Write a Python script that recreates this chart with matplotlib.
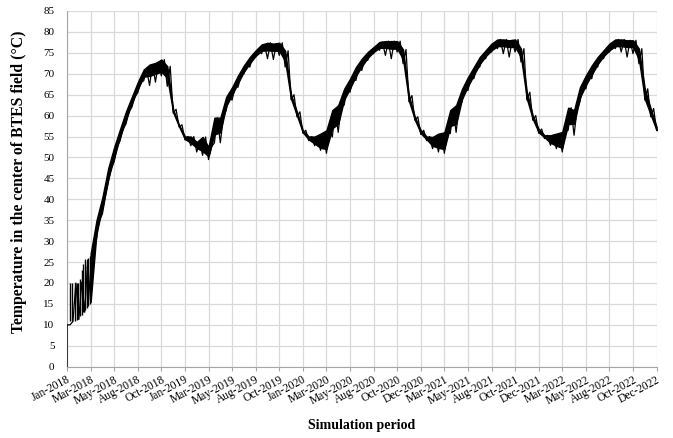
import numpy as np
import matplotlib
matplotlib.use("Agg")
import matplotlib.pyplot as plt

plt.rcParams['font.family'] = ['Liberation Serif', 'DejaVu Serif']

# sampled every 18.25 days from 1 Jan 2018 (degC)
step_days = 18.25
# lowest dips of the trace
temp_low = [
    10, 10.8, 11.3, 13, 15.5, 30.5, 36.5, 44, 49, 54,
    58, 62, 65.5, 68.3, 67.2, 68, 69.5, 67, 60.6, 57.3,
    54.2, 52.8, 51.3, 50.5, 49.5, 53.5, 53.5, 61.3, 63.7, 66.8,
    70, 71.6, 74, 74.8, 73.6, 73.4, 74.4, 71.6, 63.8, 59.7,
    55.8, 54, 52.8, 51.7, 51, 54.9, 56, 62.5, 65.6, 68.4,
    70.8, 73.2, 74.8, 75.6, 74.4, 73.6, 75.2, 72.4, 63.3, 58.9,
    55.5, 54, 52.1, 51.3, 51, 55.7, 56, 63.3, 66, 68.8,
    71.6, 73.6, 75.2, 76, 74.8, 74, 75.2, 72.8, 63.7, 58.9,
    55.8, 54.5, 52.9, 52.1, 51.3, 56.5, 55.3, 63.3, 66.4, 68.8,
    71.6, 73.6, 75.2, 76, 75.2, 74, 74.8, 72.4, 63.7, 59.7,
    56.5,
]
# lower edge of the dense part of the trace
temp_core = [
    10, 10.8, 11.3, 13, 15.5, 32, 38, 45, 50, 55,
    59, 63, 66.3, 69.3, 69.5, 70, 70.5, 69, 60.8, 57.4,
    54.4, 53.5, 52.3, 51.5, 50.3, 55.5, 56, 62.3, 65, 67.8,
    70.5, 72.5, 74.3, 75.5, 75.6, 75.5, 75.5, 73, 64, 60,
    56, 54.3, 53.3, 52.3, 52, 57, 58, 63.8, 66.5, 69.5,
    71.8, 73.8, 75.2, 76.2, 76.2, 76, 76, 73.5, 63.5, 59,
    55.8, 54.3, 52.8, 52.3, 52, 57.5, 58, 64, 67, 69.7,
    72.3, 74.2, 75.6, 76.6, 76.6, 76.4, 76.4, 74, 64, 59.2,
    56, 54.8, 53.5, 52.8, 52.3, 58, 58, 64.3, 67.3, 69.8,
    72.3, 74.2, 75.6, 76.6, 76.6, 76.4, 76.4, 73.5, 64, 60.2,
    56.5,
]
# upper edge of the trace
temp_high = [
    10, 20, 20.2, 25.5, 27, 35, 40.5, 47.5, 52.5, 56.8,
    61, 64.5, 68, 71, 72.2, 72.6, 73.4, 71.8, 61.5, 57.8,
    55, 55, 53.7, 54.9, 52.5, 59.5, 59.5, 64.5, 66.8, 69.6,
    72, 74, 75.6, 77, 77.4, 77.2, 77.4, 75.5, 65, 60.9,
    56.5, 55, 55, 55.7, 56.5, 61.3, 62.5, 66.4, 68.8, 71.6,
    73.6, 75.2, 76.4, 77.6, 77.8, 77.8, 77.8, 75.8, 64.8, 59.7,
    56.5, 55, 54.9, 55.7, 56, 61.3, 62.5, 66.4, 69.2, 71.6,
    74, 75.6, 77.2, 78.2, 78.2, 78, 78.2, 76, 65.6, 60,
    56.8, 55.3, 55.3, 55.7, 56.1, 61.9, 61.3, 66.8, 69.6, 72,
    74, 75.6, 77.2, 78.2, 78.2, 78, 78, 76, 66.4, 61.7,
    57.3,
]
start_value = 0

# separate spikes during the first weeks of charging (day of year, bottom, top)
early_spike_day = [9.3, 14.5, 24.8, 30, 35, 40.2, 45.5, 50.4, 55.7, 61, 66, 71.2]
early_spike_bottom = [10.8, 10.8, 11, 11.2, 11.5, 12, 12.3, 13, 13.5, 14, 14.5, 15]
early_spike_top = [20, 20, 20, 20, 20, 21, 23, 24.5, 25.7, 24, 26, 26.5]

tick_labels = ['Jan-2018', 'Mar-2018', 'May-2018', 'Aug-2018', 'Oct-2018',
               'Jan-2019', 'Mar-2019', 'May-2019', 'Aug-2019', 'Oct-2019',
               'Jan-2020', 'Mar-2020', 'May-2020', 'Aug-2020', 'Oct-2020',
               'Dec-2020', 'Mar-2021', 'May-2021', 'Aug-2021', 'Oct-2021',
               'Dec-2021', 'Mar-2022', 'May-2022', 'Aug-2022', 'Oct-2022',
               'Dec-2022']
tick_step_days = 73

start = np.datetime64('2018-01-01T00:00')
step_h = step_days * 24
t_nodes = np.array([start + np.timedelta64(int(i * step_h), 'h') for i in range(len(temp_low))])

# zig-zag trace: dip at each sample, upper edge half a step later
t = [start]
y = [start_value]
for i, (lo, hi) in enumerate(zip(temp_low, temp_high)):
    t.append(t_nodes[i])
    y.append(lo)
    if i < len(temp_low) - 1:
        t.append(t_nodes[i] + np.timedelta64(int(step_h / 2), 'h'))
        y.append(hi)
t = np.array(t)
y = np.array(y)

t_spikes = np.array([start + np.timedelta64(int(d * 24), 'h') for d in early_spike_day])

fig = plt.figure(figsize=(6.73, 4.38), dpi=100)
ax = fig.add_axes([0.0996, 0.1628, 0.876, 0.8121])

# dense band of the trace, then the dips / peaks on top
ax.fill_between(t_nodes[4:], temp_core[4:], temp_high[4:], color='black',
                linewidth=1.0, edgecolor='black', zorder=3)
ax.plot(t, y, color='black', linewidth=0.9, zorder=3)
ax.vlines(t_spikes, early_spike_bottom, early_spike_top, color='black', linewidth=1.0, zorder=3)

ticks = [start + np.timedelta64(k * tick_step_days, 'D') for k in range(len(tick_labels))]
ax.set_xticks(ticks)
ax.set_xticklabels(tick_labels, rotation=28, ha='right', rotation_mode='anchor', fontsize=8.3)
ax.set_xlim(ticks[0], ticks[-1])

ax.set_ylim(0, 85)
ax.set_yticks(np.arange(0, 86, 5))
ax.tick_params(axis='y', labelsize=8, length=0, pad=9)
ax.tick_params(axis='x', length=3, color='#a6a6a6', pad=2)

ax.grid(True, color='#d9d9d9', linewidth=0.9)
ax.set_axisbelow(True)
for s in ['top', 'right']:
    ax.spines[s].set_visible(False)
ax.spines['left'].set_color('#a6a6a6')
ax.spines['bottom'].set_color('#a6a6a6')

ax.set_xlabel('Simulation period', fontsize=10, fontweight='bold', labelpad=9)
ax.set_ylabel('Temperature in the center of BTES field (°C)', fontsize=11.3,
              fontweight='bold', labelpad=10)
ax.yaxis.set_label_coords(-0.068, 0.52)

fig.savefig('out.png', dpi=100)
